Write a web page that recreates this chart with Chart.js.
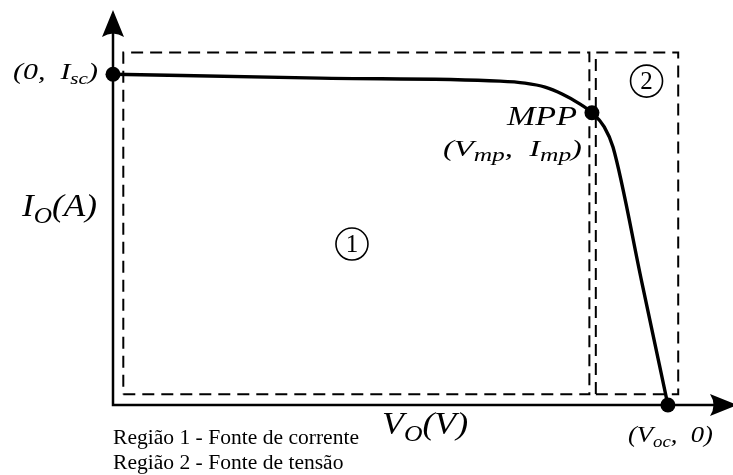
<!DOCTYPE html>
<html>
<head>
<meta charset="utf-8">
<script src="https://cdn.jsdelivr.net/npm/chart.js@4/dist/chart.umd.min.js"></script>
<style>
  html, body { margin: 0; padding: 0; background: #fff; }
  #c { display: block; }
</style>
</head>
<body>
<canvas id="c" width="733" height="475"></canvas>
<script>
// I-V characteristic of a photovoltaic module: output voltage (V) vs output current (A)
const voltage = [0, 8.04, 15.03, 16.0, 16.78, 17.44, 18.06, 18.6, 19.07, 19.42, 20.54, 21.55];
const current = [3.35, 3.31, 3.28, 3.26, 3.22, 3.15, 3.06, 2.96, 2.82, 2.61, 1.24, 0];

// Marked points: short circuit, maximum power point, open circuit
const keyVoltage = [0, 18.6, 21.55];
const keyCurrent = [3.35, 2.96, 0];

// Operating regions: voltage spans and common current span
const region1V = [0.4, 18.5];
const region2V = [18.75, 21.95];
const regionI = [0.11, 3.57];

// Region markers (circled numbers) placed at these (V, A) positions
const regionLabelV = [9.28, 20.72];
const regionLabelI = [1.63, 3.28];
const regionLabels = ['1', '2'];

const axisMaxV = 24;
const axisMaxI = 4;

const legendLines = ['Região 1 - Fonte de corrente', 'Região 2 - Fonte de tensão'];

const SERIF = '"Liberation Serif", "DejaVu Serif", serif';

function rectPoints(vs, is) {
  return [
    { x: vs[0], y: is[0] }, { x: vs[1], y: is[0] },
    { x: vs[1], y: is[1] }, { x: vs[0], y: is[1] }, { x: vs[0], y: is[0] }
  ];
}

// Draws italic text made of normal and subscript pieces, stretched to a given width
function drawRich(ctx, parts, x, y, size, align, width, subRatio) {
  const sr = subRatio || 0.72;
  const main = `italic ${size}px ${SERIF}`;
  const sub = `italic ${Math.round(size * sr)}px ${SERIF}`;
  let w = 0;
  parts.forEach(p => { ctx.font = p[1] ? sub : main; w += ctx.measureText(p[0]).width; });
  const sx = width ? width / w : 1;
  const left = align === 'right' ? x - w * sx : x;
  ctx.save();
  ctx.translate(left, y);
  ctx.scale(sx, 1);
  let cx = 0;
  parts.forEach(p => {
    ctx.font = p[1] ? sub : main;
    ctx.fillText(p[0], cx, p[1] ? size * 0.22 : 0);
    cx += ctx.measureText(p[0]).width;
  });
  ctx.restore();
}

function arrowHead(ctx, tipX, tipY, dir) {
  // concave-backed arrow head
  const L = 27, W = 11, N = 20;
  ctx.beginPath();
  if (dir === 'up') {
    ctx.moveTo(tipX, tipY);
    ctx.lineTo(tipX + W, tipY + L);
    ctx.quadraticCurveTo(tipX, tipY + N, tipX - W, tipY + L);
  } else {
    ctx.moveTo(tipX, tipY);
    ctx.lineTo(tipX - L, tipY - W);
    ctx.quadraticCurveTo(tipX - N, tipY, tipX - L, tipY + W);
  }
  ctx.closePath();
  ctx.fill();
}

const axesPlugin = {
  id: 'ivAxes',
  beforeDatasetsDraw(chart) {
    const { ctx, chartArea, scales } = chart;
    const x0 = scales.x.getPixelForValue(0);
    const y0 = scales.y.getPixelForValue(0);
    const tipX = chartArea.right + 6;
    ctx.save();
    ctx.strokeStyle = '#000';
    ctx.fillStyle = '#000';
    ctx.lineWidth = 2.5;
    ctx.beginPath();
    ctx.moveTo(x0, y0);
    ctx.lineTo(x0, chartArea.top + 20);
    ctx.moveTo(x0 - 1.25, y0);
    ctx.lineTo(tipX - 20, y0);
    ctx.stroke();
    arrowHead(ctx, x0, chartArea.top, 'up');
    arrowHead(ctx, tipX, y0, 'right');
    ctx.restore();
  },
  afterDraw(chart) {
    const { ctx, chartArea, scales } = chart;
    const px = v => scales.x.getPixelForValue(v);
    const py = i => scales.y.getPixelForValue(i);
    ctx.save();
    ctx.fillStyle = '#000';
    ctx.strokeStyle = '#000';
    ctx.textBaseline = 'alphabetic';
    ctx.textAlign = 'left';

    // Point annotations
    const isc = { x: px(keyVoltage[0]), y: py(keyCurrent[0]) };
    const mpp = { x: px(keyVoltage[1]), y: py(keyCurrent[1]) };
    const voc = { x: px(keyVoltage[2]), y: py(keyCurrent[2]) };
    drawRich(ctx, [['(0,  ', 0], ['I', 0], ['sc', 1], [')', 0]], isc.x - 15, isc.y + 5, 24, 'right', 85);
    drawRich(ctx, [['MPP', 0]], mpp.x - 15, mpp.y + 12, 28, 'right', 70);
    drawRich(ctx, [['(V', 0], ['mp', 1], [',  I', 0], ['mp', 1], [')', 0]], mpp.x - 10, mpp.y + 43, 23, 'right', 139, 0.8);
    drawRich(ctx, [['(V', 0], ['oc', 1], [',  0)', 0]], voc.x - 40, voc.y + 37, 24, 'left', 85);

    // Axis titles
    drawRich(ctx, [['I', 0], ['O', 1], ['(A)', 0]], chartArea.left - 91, py(1.91), 32, 'left', 75);
    drawRich(ctx, [['V', 0], ['O', 1], ['(V)', 0]], px(10.45), chartArea.bottom + 29, 32, 'left', 86);

    // Circled region numbers
    ctx.lineWidth = 1.6;
    regionLabels.forEach((t, k) => {
      const cx = px(regionLabelV[k]), cy = py(regionLabelI[k]);
      ctx.beginPath();
      ctx.arc(cx, cy, 16, 0, Math.PI * 2);
      ctx.stroke();
      ctx.font = `25px ${SERIF}`;
      ctx.textAlign = 'center';
      ctx.textBaseline = 'middle';
      ctx.fillText(t, cx, cy + 1);
    });

    // Region legend below the voltage axis
    ctx.textAlign = 'left';
    ctx.textBaseline = 'alphabetic';
    ctx.font = `20px ${SERIF}`;
    const sx = 246 / ctx.measureText(legendLines[0]).width;
    legendLines.forEach((t, k) => {
      ctx.save();
      ctx.translate(chartArea.left, chartArea.bottom + 39 + k * 25);
      ctx.scale(sx, 1);
      ctx.fillText(t, 0, 0);
      ctx.restore();
    });
    ctx.restore();
  }
};

const dashed = {
  showLine: true,
  borderColor: '#000',
  borderWidth: 2,
  borderDash: [12, 7],
  pointRadius: 0,
  fill: false,
  tension: 0
};

new Chart(document.getElementById('c'), {
  type: 'scatter',
  data: {
    datasets: [
      {
        label: 'Pontos',
        data: keyVoltage.map((v, i) => ({ x: v, y: keyCurrent[i] })),
        pointRadius: 7.5,
        pointBackgroundColor: '#000',
        pointBorderColor: '#000',
        pointBorderWidth: 0,
        showLine: false
      },
      {
        label: 'Curva I-V',
        data: voltage.map((v, i) => ({ x: v, y: current[i] })),
        showLine: true,
        borderColor: '#000',
        borderWidth: 3.4,
        pointRadius: 0,
        cubicInterpolationMode: 'monotone',
        fill: false
      },
      Object.assign({ label: 'Região 1', data: rectPoints(region1V, regionI) }, dashed),
      Object.assign({ label: 'Região 2', data: rectPoints(region2V, regionI) }, dashed)
    ]
  },
  options: {
    responsive: false,
    animation: false,
    devicePixelRatio: 1,
    clip: false,
    layout: { autoPadding: false, padding: { left: 113, right: 2, top: 10, bottom: 70 } },
    plugins: { legend: { display: false }, tooltip: { enabled: false }, title: { display: false } },
    scales: {
      x: { type: 'linear', min: 0, max: axisMaxV, display: false },
      y: { type: 'linear', min: 0, max: axisMaxI, display: false }
    },
    events: []
  },
  plugins: [axesPlugin]
});
</script>
</body>
</html>
